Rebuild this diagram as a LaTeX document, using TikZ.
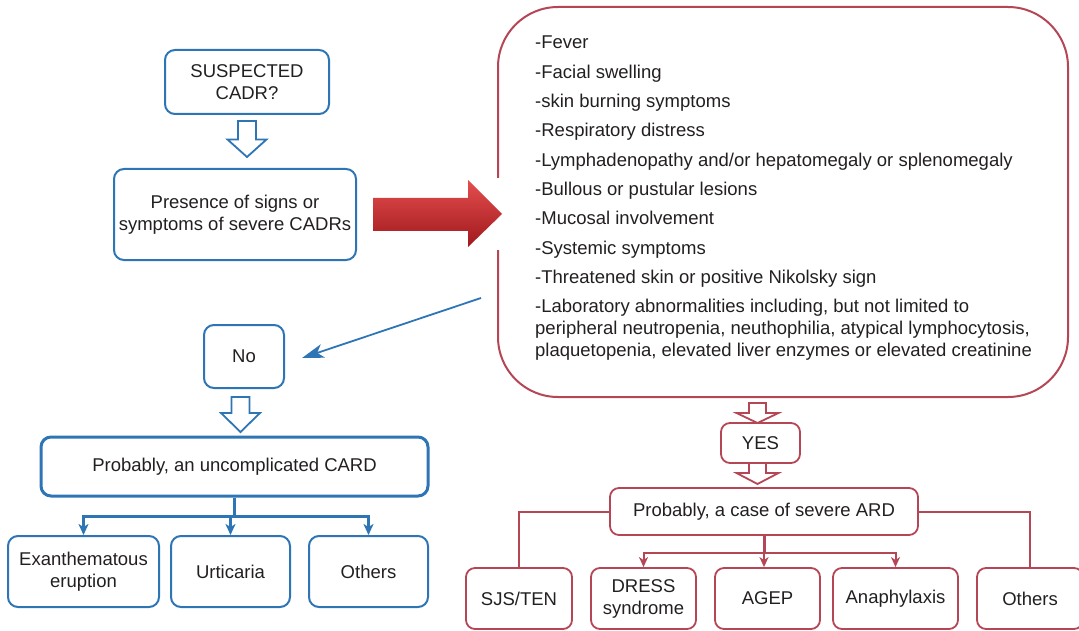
\documentclass[tikz,border=0pt]{standalone}
\usepackage{fontspec}
\setmainfont{Liberation Sans}
\usepackage{xcolor}
\usetikzlibrary{shapes,arrows,positioning,fit,calc,arrows.meta}

\definecolor{cadrblue}{RGB}{46,117,182}
\definecolor{ardred}{RGB}{180,70,86}
\definecolor{txtgray}{RGB}{35,31,32}

% hollow block arrow pointing down: x, top, head start, tip, half shaft, half head
\newcommand{\hollowdown}[7][]{%
  \draw[#1] ({#2-#6},#3) -- ({#2+#6},#3) -- ({#2+#6},#4) -- ({#2+#7},#4) -- (#2,#5)
    -- ({#2-#7},#4) -- ({#2-#6},#4) -- cycle;}

\begin{document}
\begin{tikzpicture}[
    x=1pt, y=-1pt,
    every node/.style={font=\fontsize{18.5}{22}\selectfont, text=txtgray},
    bluebox/.style={draw=cadrblue, line width=2pt, rounded corners=10pt, align=center, inner sep=1pt},
    redbox/.style={draw=ardred, line width=1.8pt, rounded corners=9pt, align=center, inner sep=1pt},
    blueline/.style={draw=cadrblue, line width=2.2pt},
    redline/.style={draw=ardred, line width=2pt},
    bluetip/.style={-{Stealth[length=11pt, width=10pt, inset=3pt]}},
    redtip/.style={-{Stealth[length=10pt, width=9pt, inset=3pt]}},
    hollowblue/.style={draw=cadrblue, line width=1.8pt, fill=white, line join=miter},
    hollowred/.style={draw=ardred, line width=1.8pt, fill=white, line join=miter}
]
\useasboundingbox (0,0) rectangle (1079,631);

% left branch
\node[bluebox, minimum width=164pt, minimum height=64pt] (suspect) at (247,82) {SUSPECTED\\CADR?};
\node[bluebox, minimum width=242pt, minimum height=91pt] (presence) at (235,214.5) {Presence of signs or\\symptoms of severe CADRs};
\node[bluebox, minimum width=80pt, minimum height=63pt] (no) at (244,356.5) {No};
\node[bluebox, line width=3pt, minimum width=387pt, minimum height=59pt] (uncomp) at (234.5,466.5) {Probably, an uncomplicated CARD};
\node[bluebox, minimum width=151pt, minimum height=71pt] (exanth) at (83.5,571.5) {Exanthematous\\eruption};
\node[bluebox, minimum width=119pt, minimum height=71pt] (urtic) at (230.5,571.5) {Urticaria};
\node[bluebox, minimum width=119pt, minimum height=71pt] (othersL) at (368.5,571.5) {Others};

\hollowdown[hollowblue]{247}{121}{139.5}{157}{9}{19.5}
\hollowdown[hollowblue]{240.5}{397}{413}{432}{9}{19.5}

% signs box and red arrow
\node[draw=ardred, line width=2pt, rounded corners=60pt, minimum width=570pt, minimum height=390pt] (signs) at (783,202) {};
\node[anchor=north west, align=left, inner sep=0pt] (signlist) at (535,36) {%
-Fever\\[7.3pt]
-Facial swelling\\[7.3pt]
-skin burning symptoms\\[7.3pt]
-Respiratory distress\\[7.3pt]
-Lymphadenopathy and/or hepatomegaly or splenomegaly\\[7.3pt]
-Bullous or pustular lesions\\[7.3pt]
-Mucosal involvement\\[7.3pt]
-Systemic symptoms\\[7.3pt]
-Threatened skin or positive Nikolsky sign\\[7.3pt]
-Laboratory abnormalities including, but not limited to\\
peripheral neutropenia, neuthophilia, atypical lymphocytosis,\\
plaquetopenia, elevated liver enzymes or elevated creatinine};

\fill[white] (369,178) rectangle (504,250);
\shade[top color={rgb,255:red,228;green,78;blue,78}, middle color={rgb,255:red,210;green,36;blue,40}, bottom color={rgb,255:red,160;green,24;blue,28}]
    (373,198) -- (468,198) -- (468,180) -- (502,214) -- (468,247) -- (468,231) -- (373,231) -- cycle;

\coordinate (nostart) at (481,298);
\draw[blueline, line width=1.8pt, -{Stealth[length=22pt, width=14pt, inset=6pt]}] (nostart) -- ($(no.east)+(17,1.5)$);

% right branch
\node[redbox, minimum width=79pt, minimum height=40pt] (yes) at (760.5,443) {YES};
\node[redbox, minimum width=308pt, minimum height=47pt] (severe) at (764,511.5) {Probably, a case of severe ARD};
\node[redbox, minimum width=106pt, minimum height=61pt] (sjs) at (519,598.5) {SJS/TEN};
\node[redbox, minimum width=105pt, minimum height=61pt] (dress) at (643.5,598.5) {DRESS\\syndrome};
\node[redbox, minimum width=105pt, minimum height=61pt] (agep) at (767.5,598.5) {AGEP};
\node[redbox, minimum width=125pt, minimum height=61pt] (anaph) at (895.5,598.5) {Anaphylaxis};
\node[redbox, minimum width=106pt, minimum height=61pt] (othersR) at (1030,598.5) {Others};

\hollowdown[hollowred]{757.5}{403}{413}{423}{8.5}{21}
\hollowdown[hollowred]{757.5}{463}{473}{484}{8.5}{21}

% connectors
\coordinate (ubranch) at ($(uncomp.south)+(0,19)$);
\draw[blueline] (uncomp.south) -- (ubranch);
\draw[blueline, bluetip] (ubranch) -| (exanth.north);
\draw[blueline, bluetip] (urtic.north |- ubranch) -- (urtic.north);
\draw[blueline, bluetip] (ubranch) -| (othersL.north);

\coordinate (sbranch) at ($(severe.south)+(0,17)$);
\draw[redline] (severe.west) -| (sjs.north);
\draw[redline] (severe.east) -| (othersR.north);
\draw[redline, line width=3pt] (severe.south) -- (sbranch);
\draw[redline, redtip] (sbranch) -| (dress.north);
\draw[redline, redtip] (sbranch) -- (sbranch |- agep.north);
\draw[redline, redtip] (sbranch) -| (anaph.north);
\end{tikzpicture}
\end{document}
